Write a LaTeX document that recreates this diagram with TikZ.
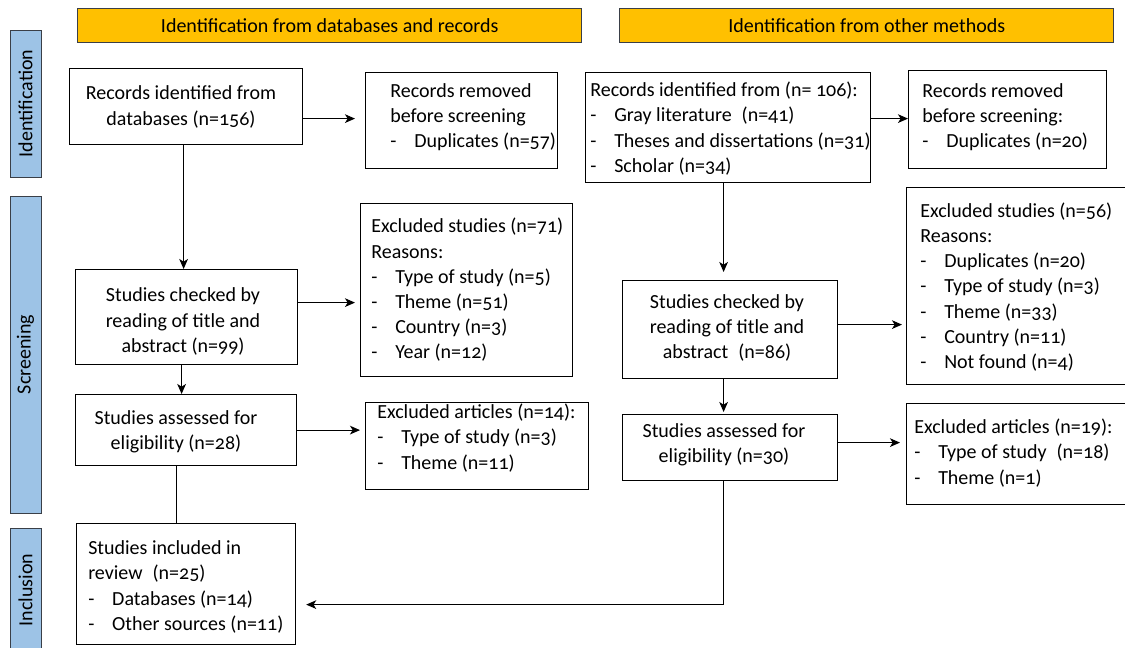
\documentclass[tikz,border=0pt]{standalone}
\usepackage{fontspec}
\setmainfont{Carlito}[Numbers=OldStyle]
\usetikzlibrary{arrows.meta,calc}
\definecolor{hdr}{HTML}{FFC000}
\definecolor{side}{HTML}{9DC3E6}
\definecolor{sideline}{HTML}{3A3F47}
\newcommand\itm[1]{\makebox[18pt][l]{-}#1}
\newcommand\mkbox[6][box]{\node[#1, minimum width={(#5-#3)*0.75pt}, minimum height={(#6-#4)*0.75pt}, anchor=north west] (#2) at (#3,#4) {};}
\tikzset{
  box/.style={draw=black, line width=0.9pt, inner sep=0pt, rectangle},
  hdrbox/.style={draw=sideline, fill=hdr, line width=1.1pt, inner sep=0pt, rectangle},
  sidebox/.style={draw=sideline, fill=side, line width=1.1pt, inner sep=0pt, rectangle},
  txt/.style={inner sep=0pt, font=\fontsize{15pt}{18.9pt}\selectfont},
  arr/.style={draw, line width=0.8pt, -{Stealth[length=7.5pt,width=6.5pt,inset=2pt]}},
  ln/.style={draw, line width=0.8pt},
}
\begin{document}
\begin{tikzpicture}[x=0.75pt,y=-0.75pt]
\useasboundingbox (0,0) rectangle (1125,647);
% headers
\mkbox[hdrbox]{H1}{77}{8}{581}{42}
\mkbox[hdrbox]{H2}{619}{8}{1113}{42}
\node[txt] (H1t) at (H1.center) {Identification from databases and records};
\node[txt] (H2t) at (H2.center) {Identification from other methods};
% side labels
\mkbox[sidebox]{S1}{10}{30}{41}{177}
\mkbox[sidebox]{S2}{10}{196}{41}{513}
\mkbox[sidebox]{S3}{10}{528}{41}{652}
\node[txt, rotate=90] (S1t) at (25.5,103.5) {Identification};
\node[txt, rotate=90] (S2t) at (25.5,354.5) {Screening};
\node[txt, rotate=90] (S3t) at (25.5,590) {Inclusion};
% boxes
\mkbox{A}{69}{68}{302}{144}
\mkbox{B}{365}{72}{557}{168}
\mkbox{C}{585}{72}{870}{182}
\mkbox{D}{908}{70}{1106}{168}
\mkbox{E}{75}{269}{297}{364}
\mkbox{F}{360}{203}{572}{376}
\mkbox{G}{75}{394}{296}{465}
\mkbox{H}{365}{402}{588}{489}
\mkbox{I}{622}{280}{837}{378}
\mkbox{J}{906}{187}{1132}{384}
\mkbox{K}{622}{414}{837}{480}
\mkbox{L}{906}{403}{1132}{504}
\mkbox{M}{76}{523}{295}{644}
% texts
\node[txt, align=center] (At) at (181,107) {Records identified from\\databases (n=156)};
\node[txt, align=left, anchor=west] (Bt) at (390,117) {Records removed\\before screening\\\itm{Duplicates (n=57)}};
\node[txt, align=left, anchor=west] (Ct) at (590,128.5) {Records identified from (n= 106):\\\itm{Gray literature\enspace(n=41)}\\\itm{Theses and dissertations (n=31)}\\\itm{Scholar (n=34)}};
\node[txt, align=left, anchor=west] (Dt) at (922,117) {Records removed\\before screening:\\\itm{Duplicates (n=20)}};
\node[txt, align=center] (Et) at (183,321.5) {Studies checked by\\reading of title and\\abstract (n=99)};
\node[txt, align=left, anchor=west] (Ft) at (371,290) {Excluded studies (n=71)\\Reasons:\\\itm{Type of study (n=5)}\\\itm{Theme (n=51)}\\\itm{Country (n=3)}\\\itm{Year (n=12)}};
\node[txt, align=center] (Gt) at (176,431.5) {Studies assessed for\\eligibility (n=28)};
\node[txt, align=left, anchor=west] (Ht) at (377,438) {Excluded articles (n=14):\\\itm{Type of study (n=3)}\\\itm{Theme (n=11)}};
\node[txt, align=center] (It) at (727,328) {Studies checked by\\reading of title and\\abstract\enspace(n=86)};
\node[txt, align=left, anchor=west] (Jt) at (920,287) {Excluded studies (n=56)\\Reasons:\\\itm{Duplicates (n=20)}\\\itm{Type of study (n=3)}\\\itm{Theme (n=33)}\\\itm{Country (n=11)}\\\itm{Not found (n=4)}};
\node[txt, align=center] (Kt) at (724,444.5) {Studies assessed for\\eligibility (n=30)};
\node[txt, align=left, anchor=west] (Lt) at (914,453) {Excluded articles (n=19):\\\itm{Type of study\enspace(n=18)}\\\itm{Theme (n=1)}};
\node[txt, align=left, anchor=west] (Mt) at (88,587) {Studies included in\\review\enspace(n=25)\\\itm{Databases (n=14)}\\\itm{Other sources (n=11)}};
% connectors
\coordinate (ab) at ($(A.east)+(0,12)$);
\draw[arr, shorten >=7.5pt] (ab) -- (ab -| B.west);
\coordinate (ae) at ($(A.south)+(-2.5,0)$);
\draw[arr] (ae) -- (ae |- E.north);
\coordinate (ef) at ($(E.east)+(0,-14.5)$);
\draw[arr, shorten >=3.75pt] (ef) -- (ef -| F.west);
\coordinate (eg) at ($(E.south)+(-5,0)$);
\draw[arr] (eg) -- (eg |- G.north);
\draw[arr, shorten >=3.75pt] (G.east) -- (G.east -| H.west);
\coordinate (gm) at ($(G.south)+(-9.5,0)$);
\draw[ln] (gm) -- (gm |- M.north);
\coordinate (cd) at ($(C.east)+(0,-9)$);
\draw[arr] (cd) -- (cd -| D.west);
\coordinate (ci) at ($(C.south)+(-4.5,0)$);
\draw[arr, shorten >=6pt] (ci) -- (ci |- I.north);
\coordinate (ij) at ($(I.east)+(0,-5)$);
\draw[arr, shorten >=3pt] (ij) -- (ij -| J.west);
\coordinate (ik) at ($(I.south)+(-6.5,0)$);
\draw[arr, shorten >=1.5pt] (ik) -- (ik |- K.north);
\coordinate (kl) at ($(K.east)+(0,-5)$);
\draw[arr, shorten >=4.5pt] (kl) -- (kl -| L.west);
\coordinate (km) at ($(K.south)+(-6.5,0)$);
\coordinate (mk) at ($(M.east)+(0,20.5)$);
\draw[arr, shorten >=7.5pt] (km) |- (mk);
\end{tikzpicture}
\end{document}
